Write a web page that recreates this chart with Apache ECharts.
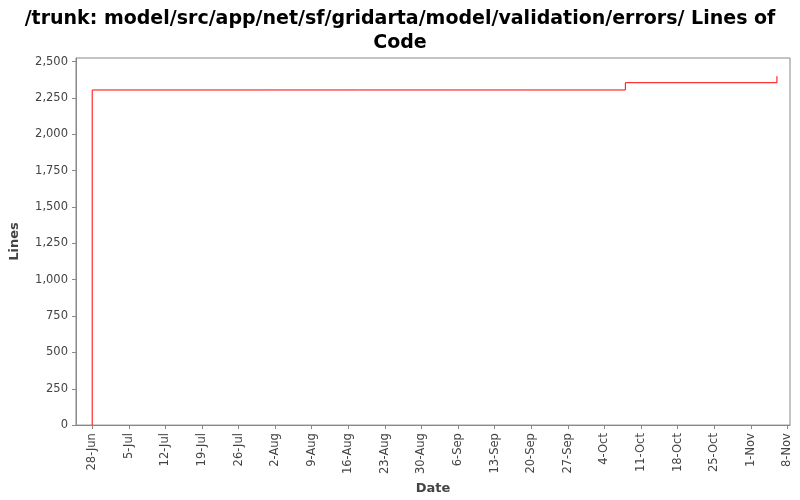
<!DOCTYPE html><html><head><meta charset="utf-8"><script src="https://cdn.jsdelivr.net/npm/echarts@6/dist/echarts.min.js"></script></head><body style="margin:0"><div id="c" style="width:800px;height:500px"></div><script>
const tickLabels=['28-Jun','5-Jul','12-Jul','19-Jul','26-Jul','2-Aug','9-Aug','16-Aug','23-Aug','30-Aug','6-Sep','13-Sep','20-Sep','27-Sep','4-Oct','11-Oct','18-Oct','25-Oct','1-Nov','8-Nov'];
const tickDays=tickLabels.map((_,i)=>i*7);
const days=[0,0,102,102,131,131];
const lines=[0,2305,2305,2355,2355,2400];
const yTicks=[0,250,500,750,1000,1250,1500,1750,2000,2250,2500];
const ch=echarts.init(document.getElementById('c'));
ch.setOption({
title:{text:'/trunk: model/src/app/net/sf/gridarta/model/validation/errors/ Lines of\nCode',left:'center',top:2,textStyle:{fontFamily:'DejaVu Sans',fontWeight:'bold',fontSize:19,lineHeight:24,color:'#000'}},
grid:{left:73,right:10,top:58,bottom:73,show:true,borderColor:'#888',borderWidth:1},
xAxis:{type:'value',min:-3.1,max:133.5,name:'Date',nameLocation:'middle',nameGap:52,nameTextStyle:{fontFamily:'DejaVu Sans',fontWeight:'bold',fontSize:13,color:'#444'},
axisLine:{show:true,onZero:false,lineStyle:{color:'#888'}},splitLine:{show:false},
axisTick:{show:true,inside:false,customValues:tickDays,length:4,lineStyle:{color:'#888'}},
axisLabel:{customValues:tickDays,rotate:90,fontFamily:'DejaVu Sans',fontSize:11.5,color:'#444',formatter:v=>tickLabels[Math.round(v/7)]}},
yAxis:{type:'value',min:0,max:2525,name:'Lines',nameLocation:'middle',nameGap:55,nameTextStyle:{fontFamily:'DejaVu Sans',fontWeight:'bold',fontSize:13,color:'#444'},
axisLine:{show:true,onZero:false,lineStyle:{color:'#888'}},splitLine:{show:false},
axisTick:{show:true,inside:false,customValues:yTicks,length:4,lineStyle:{color:'#888'}},
axisLabel:{customValues:yTicks,fontFamily:'DejaVu Sans',fontSize:11.5,color:'#444',formatter:v=>v.toLocaleString('en-US')}},
series:[{type:'line',data:days.map((d,i)=>[d,lines[i]]),symbol:'none',lineStyle:{color:'#ff0000',width:1},animation:false}]
});
</script></body></html>
